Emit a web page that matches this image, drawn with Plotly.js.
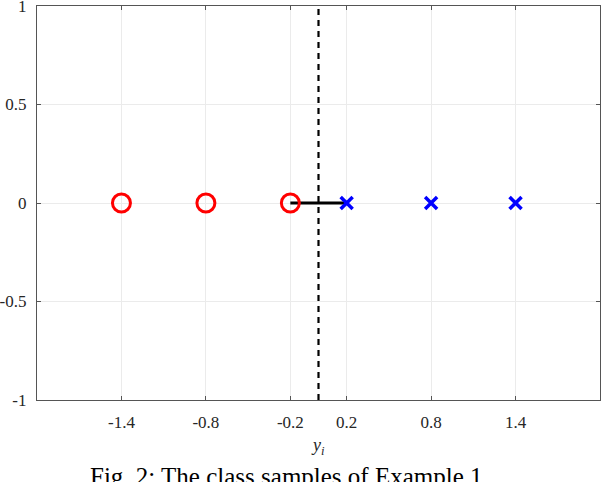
<!DOCTYPE html>
<html><head><meta charset="utf-8">
<script src="https://cdn.plot.ly/plotly-3.0.1.min.js"></script>
<style>body{margin:0;padding:0;background:#fff}#chart{width:602px;height:482px}</style>
</head><body><div id="chart"></div>
<script>
const classA_x = [-1.4, -0.8, -0.2];
const classA_y = [0, 0, 0];
const classB_x = [0.2, 0.8, 1.4];
const classB_y = [0, 0, 0];
const link_x = [-0.2, 0.2];
const link_y = [0, 0];
const boundary_x = [0, 0];
const boundary_y = [-1, 1];
const xTicks = [-1.4, -0.8, -0.2, 0.2, 0.8, 1.4];
const xTickText = ['-1.4', '-0.8', '-0.2', '0.2', '0.8', '1.4'];
const yTicks = [-1, -0.5, 0, 0.5, 1];
const yTickText = ['-1', '-0.5', '0', '0.5', '1'];

const serif = '"Liberation Serif", "Times New Roman", serif';
const font = {family: serif, size: 17, color: '#262626'};
const traces = [
  {x: boundary_x, y: boundary_y, mode: 'lines', line: {color: '#000', width: 2.2, dash: '6px,5px'}, hoverinfo: 'skip'},
  {x: link_x, y: link_y, mode: 'lines', line: {color: '#000', width: 3}},
  {x: classA_x, y: classA_y, mode: 'markers', marker: {symbol: 'circle-open', size: 18, color: '#ff0000', line: {width: 3, color: '#ff0000'}}},
  {x: classB_x, y: classB_y, mode: 'markers', marker: {symbol: 'x-thin-open', size: 12, color: '#0000ff', line: {width: 3.5, color: '#0000ff'}}}
];
const axisCommon = {showline: true, linecolor: '#555', linewidth: 1.2, mirror: 'ticks', ticks: 'inside', ticklen: 4, tickcolor: '#555', showgrid: true, gridcolor: '#ebebeb', gridwidth: 1, zeroline: false, tickfont: font, ticklabeloverflow: 'allow', automargin: false};
const layout = {
  width: 602, height: 482,
  margin: {l: 37, r: 2, t: 6, b: 82},
  showlegend: false,
  paper_bgcolor: '#fff', plot_bgcolor: '#fff',
  xaxis: Object.assign({}, axisCommon, {range: [-2, 2], tickvals: xTicks, ticktext: xTickText, ticklabelstandoff: 6}),
  yaxis: Object.assign({}, axisCommon, {range: [-1, 1], tickvals: yTicks, ticktext: yTickText, ticklabelstandoff: 6}),
  annotations: [
    {text: '<i>y</i><sub><i>i</i></sub>', xref: 'paper', yref: 'paper', x: 0.499, y: 0, yshift: -33, showarrow: false, xanchor: 'center', yanchor: 'top', font: {family: serif, size: 18, color: '#262626'}},
    {text: 'Fig. 2: The class samples of Example 1.', xref: 'paper', yref: 'paper', x: 0.449, y: 0, yshift: -61, showarrow: false, xanchor: 'center', yanchor: 'top', font: {family: serif, size: 25, color: '#000'}}
  ]
};
Plotly.newPlot('chart', traces, layout, {displayModeBar: false, staticPlot: true});
</script></body></html>
